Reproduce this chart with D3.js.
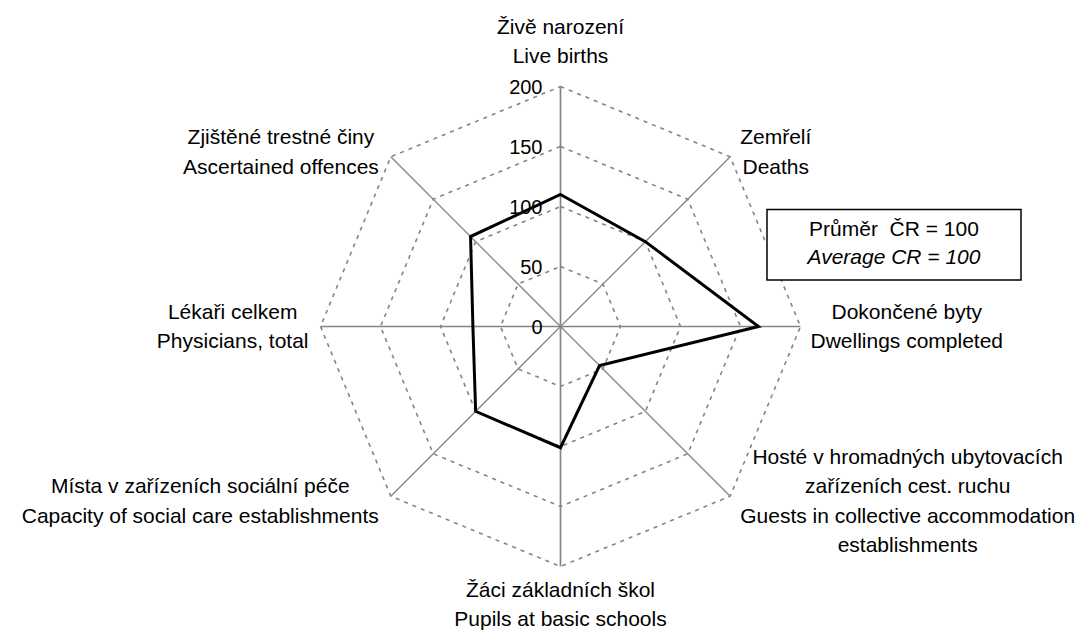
<!DOCTYPE html>
<html>
<head>
<meta charset="utf-8">
<script src="https://cdn.jsdelivr.net/npm/d3@7"></script>
<style>
  body { margin: 0; background: #fff; }
  text { font-family: "Liberation Sans", Arial, sans-serif; fill: #000; }
</style>
</head>
<body>
<div class="radarContainer"></div>
<script>
// categories (Czech / English label lines), clockwise from the top
const categories = [
  ['Živě narození', 'Live births'],
  ['Zemřelí', 'Deaths'],
  ['Dokončené byty', 'Dwellings completed'],
  ['Hosté v hromadných ubytovacích', 'zařízeních cest. ruchu', 'Guests in collective accommodation', 'establishments'],
  ['Žáci základních škol', 'Pupils at basic schools'],
  ['Místa v zařízeních sociální péče', 'Capacity of social care establishments'],
  ['Lékaři celkem', 'Physicians, total'],
  ['Zjištěné trestné činy', 'Ascertained offences']
]
const values = [110, 100, 165, 46, 101, 100, 73, 106]
const ticks = [0, 50, 100, 150, 200]
const legendLines = ['Průměr  ČR = 100', 'Average CR = 100']

const width = 1085
const height = 632
const cx = 560.5
const cy = 326.5
const radius = 240
const lineH = 29.5
const fontSize = 20
const stretch = 1.05
const grey = '#858585'

const svg = d3.select('.radarContainer')
  .append('svg')
  .attr('width', width)
  .attr('height', height)

const r = d3.scaleLinear().domain([0, 200]).range([0, radius])
const angle = d3.scaleLinear().domain([0, categories.length]).range([0, 2 * Math.PI])

// x, y of a value on axis i
const pt = (i, v) => [cx + r(v) * Math.sin(angle(i)), cy - r(v) * Math.cos(angle(i))]

// dashed octagon rings
const ring = d3.line().curve(d3.curveLinearClosed)
svg.append('g')
  .selectAll('path')
  .data(ticks.filter(t => t > 0))
  .join('path')
    .attr('d', t => ring(categories.map((c, i) => pt(i, t))))
    .attr('fill', 'none')
    .attr('stroke', grey)
    .attr('stroke-width', 1.6)
    .attr('stroke-dasharray', '4,5')

// axes
svg.append('g')
  .selectAll('line')
  .data(categories)
  .join('line')
    .attr('x1', cx)
    .attr('y1', cy)
    .attr('x2', (d, i) => pt(i, 200)[0])
    .attr('y2', (d, i) => pt(i, 200)[1])
    .attr('stroke', grey)
    .attr('stroke-width', (d, i) => i % 2 === 0 ? 1.7 : 1.3)

// tick labels
svg.append('g')
  .selectAll('text')
  .data(ticks)
  .join('text')
    .attr('x', cx - 18)
    .attr('y', t => cy - r(t) + 7)
    .attr('text-anchor', 'end')
    .attr('font-size', fontSize)
    .text(t => t)

// series polygon
svg.append('path')
  .attr('d', ring(values.map((v, i) => pt(i, v))))
  .attr('fill', 'none')
  .attr('stroke', '#000')
  .attr('stroke-width', 3)
  .attr('stroke-linejoin', 'miter')

// category labels
const labels = svg.append('g')
categories.forEach((lines, i) => {
  const [ex, ey] = pt(i, 200)
  const sx = Math.sin(angle(i))
  const sy = -Math.cos(angle(i))
  const g = labels.append('g')
  const texts = lines.map((l, k) => g.append('text')
    .attr('text-anchor', 'middle')
    .attr('font-size', fontSize)
    .attr('transform', `scale(${stretch},1)`)
    .attr('y', k * lineH)
    .text(l))
  const w = d3.max(texts, t => t.node().getComputedTextLength()) * stretch
  let bx, by
  if (Math.abs(sx) < 0.01) {
    bx = ex
    by = sy < 0 ? ey - 23.5 - (lines.length - 1) * lineH : ey + 30.5
  } else {
    bx = sx > 0 ? ex + 10 + w / 2 : ex - 12 - w / 2
    by = ey + sy * 7 - (lines.length - 1) * lineH / 2 + 7
  }
  g.attr('transform', `translate(${bx},${by})`)
})

// legend box
const lg = svg.append('g').attr('transform', 'translate(767,209.5)')
lg.append('rect')
  .attr('width', 254)
  .attr('height', 70.5)
  .attr('fill', '#fff')
  .attr('stroke', '#000')
  .attr('stroke-width', 1.5)
lg.selectAll('text')
  .data(legendLines)
  .join('text')
    .attr('text-anchor', 'middle')
    .attr('font-size', fontSize)
    .attr('font-style', (d, i) => i === 1 ? 'italic' : 'normal')
    .attr('xml:space', 'preserve')
    .style('white-space', 'pre')
    .attr('transform', (d, i) => `translate(127,${26 + i * 28}) scale(${stretch},1)`)
    .text(d => d)
</script>
</body>
</html>
